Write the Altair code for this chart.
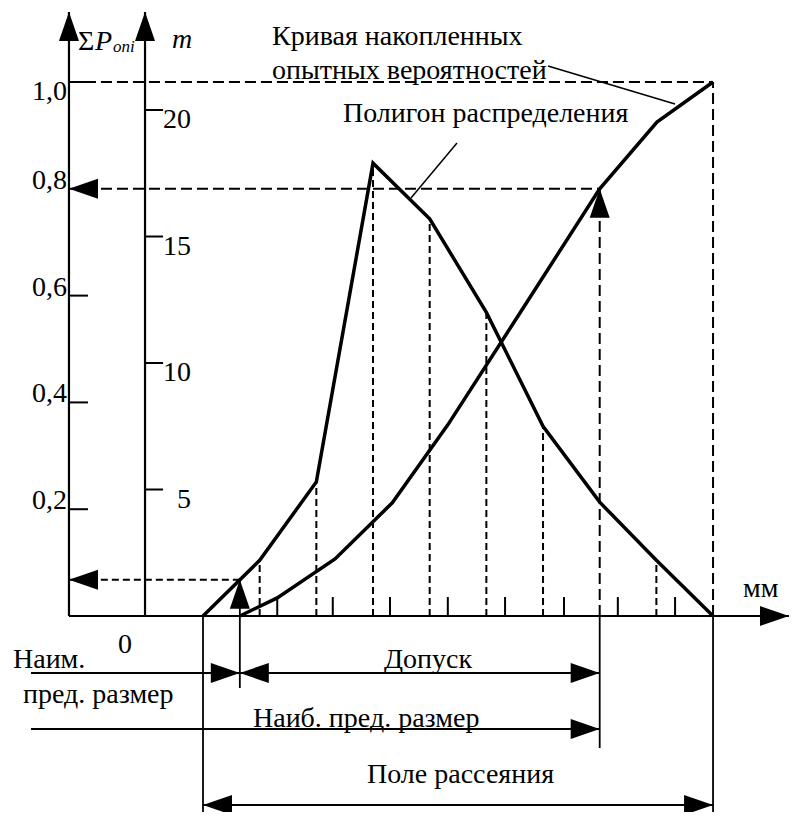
import altair as alt
import pandas as pd

# ---------------- data ----------------
# class boundaries of the measured size (interval index, 1 unit = 1 class interval)
bounds = [0, 1, 2, 3, 4, 5, 6, 7, 8, 9]
# distribution polygon: frequency m at each boundary
m_freq = [0, 2.2, 5.3, 17.9, 15.7, 12.0, 7.5, 4.5, 2.2, 0]
# curve of accumulated experimental probabilities
cum_x = [0.65, 1.31, 2.33, 3.34, 4.32, 5.59, 7.0, 8.01, 9.0]
cum_p = [0, 0.034, 0.107, 0.212, 0.358, 0.567, 0.8, 0.925, 1.0]
# axis ticks
p_ticks = [0.2, 0.4, 0.6, 0.8, 1.0]
p_tick_labels = ["0,2", "0,4", "0,6", "0,8", "1,0"]
m_ticks = [5, 10, 15, 20]
m_tick_labels = ["5", "10", "15", "20"]
x_ticks = [1.31, 2.29, 3.30, 4.32, 5.33, 6.37, 7.32, 8.33]
# limits
lim_min = 0.65      # наим. пред. размер
lim_max = 7.0       # наиб. пред. размер
spread = [0, 9]     # поле рассеяния
p_read = 0.8        # read-off probability at lim_max
m_at_min = m_freq[1] * lim_min   # polygon height at lim_min

# ---------------- layout anchors (data units) ----------------
AX_P = -2.365       # ΣP axis
AX_M = -1.023       # m axis
X_END = 10.34       # x-axis arrow tip
Y_TIP = 23.87       # vertical axes arrow tips (m units)
TICK_P = 0.335
TICK_M = 0.318
XTICK_H = 0.75
DIM1, DIM2, DIM3 = -2.253, -4.466, -7.47
DIM_LEFT = -3.035
BOTTOM = -7.75

XS = alt.Scale(domain=[-3.441, 10.358], nice=False, zero=False)
YM = alt.Scale(domain=[-7.747, 24.032], nice=False, zero=False)
YP = alt.Scale(domain=[-0.367, 1.1386], nice=False, zero=False)

FONT = "Liberation Serif"
ARROW = "M0,0L-0.345,1L0.345,1Z"


def seg_layer(df, yscale, width, dash=None):
    kw = dict(color="black", strokeWidth=width, strokeCap="butt")
    if dash:
        kw["strokeDash"] = dash
    return alt.Chart(df).mark_rule(**kw).encode(
        x=alt.X("x:Q", scale=XS, axis=None), x2="x2:Q",
        y=alt.Y("y:Q", scale=yscale, axis=None), y2="y2:Q")


def arrow_layer(df, yscale):
    return alt.Chart(df).mark_point(
        shape=ARROW, filled=True, opacity=1, size=3364, color="black", strokeWidth=0
    ).encode(
        x=alt.X("x:Q", scale=XS, axis=None),
        y=alt.Y("y:Q", scale=yscale, axis=None),
        angle=alt.Angle("a:Q", scale=None))


def text_layer(df, yscale, size=28, align="left", italic=False, dy=0):
    kw = dict(font=FONT, fontSize=size, align=align, baseline="alphabetic",
              color="black", dy=dy)
    if italic:
        kw["fontStyle"] = "italic"
    return alt.Chart(df).mark_text(**kw).encode(
        x=alt.X("x:Q", scale=XS, axis=None),
        y=alt.Y("y:Q", scale=yscale, axis=None), text="t:N")


def segs(rows):
    return pd.DataFrame(rows, columns=["x", "y", "x2", "y2"])


# ---------------- m-scale group ----------------
axes = segs([(AX_P, 0, AX_P, Y_TIP), (AX_M, 0, AX_M, Y_TIP), (AX_P, 0, X_END, 0)])
ticks_m = segs([(AX_M, v, AX_M + TICK_M, v) for v in m_ticks]
               + [(t, 0, t, XTICK_H) for t in x_ticks])
dims = segs([
    (spread[0], 0, spread[0], BOTTOM), (spread[1], 0, spread[1], BOTTOM),
    (lim_max, 0, lim_max, -5.217), (lim_min, m_at_min, lim_min, -2.846),
    (DIM_LEFT, DIM1, lim_max, DIM1), (DIM_LEFT, DIM2, lim_max, DIM2),
    (spread[0], DIM3, spread[1], DIM3)])
leaders = segs([(6.088, 21.74, 8.329, 20.24), (4.482, 18.70, 3.670, 16.52)])
poly_dash = segs([(b, 0, b, v) for b, v in zip(bounds, m_freq) if b not in (0, 7, 9)]
                 + [(lim_min, m_at_min, AX_P, m_at_min)])
arrows_m = pd.DataFrame([
    (AX_P, Y_TIP, 0), (AX_M, Y_TIP, 0), (X_END, 0, 90),
    (lim_min, m_at_min, 0), (AX_P, m_at_min, 270),
    (lim_min, DIM1, 90), (lim_min, DIM1, 270), (lim_max, DIM1, 90),
    (lim_max, DIM2, 90), (spread[0], DIM3, 270), (spread[1], DIM3, 90),
], columns=["x", "y", "a"])
poly = pd.DataFrame({"x": bounds, "y": m_freq})

texts_m = pd.DataFrame([
    ("Кривая накопленных", 1.218, 22.57),
    ("опытных вероятностей", 1.218, 21.23),
    ("Полигон распределения", 2.47, 19.53),
    ("Наим.", -3.353, -2.055),
    ("пред. размер", -3.176, -3.439),
    ("Допуск", 3.194, -2.055),
    ("Наиб. пред. размер", 0.882, -4.387),
    ("Поле рассеяния", 2.894, -6.601),
    ("мм", 9.529, 0.751),
    ("0", -1.5, -1.462),
    ("Σ", -2.205, 22.37),
], columns=["t", "x", "y"])
italic_m = pd.DataFrame([("P", -1.906, 22.37), ("m", -0.547, 22.45)], columns=["t", "x", "y"])
sub_m = pd.DataFrame([("опi", -1.588, 22.29)], columns=["t", "x", "y"])
mlab = pd.DataFrame({"t": m_tick_labels, "x": [-0.212] * 4, "y": m_ticks})

m_group = alt.layer(
    seg_layer(axes, YM, 2.2), seg_layer(ticks_m, YM, 2), seg_layer(dims, YM, 1.8),
    seg_layer(leaders, YM, 1.5), seg_layer(poly_dash, YM, 2, [7, 4]),
    alt.Chart(poly).mark_line(color="black", strokeWidth=3.5, strokeJoin="miter").encode(
        x=alt.X("x:Q", scale=XS, axis=None), y=alt.Y("y:Q", scale=YM, axis=None)),
    arrow_layer(arrows_m, YM),
    text_layer(texts_m, YM),
    text_layer(italic_m, YM, italic=True),
    text_layer(sub_m, YM, size=17, italic=True),
    text_layer(mlab, YM, align="right", dy=18),
)

# ---------------- ΣP-scale group ----------------
ticks_p = segs([(AX_P, v, AX_P + TICK_P, v) for v in p_ticks if v != p_read])
long_dash = segs([(AX_P, 1.0, spread[1], 1.0), (AX_P, p_read, lim_max, p_read),
                  (lim_max, 0, lim_max, p_read), (spread[1], 0, spread[1], 1.0)])
arrows_p = pd.DataFrame([(AX_P, p_read, 270), (lim_max, p_read, 0)], columns=["x", "y", "a"])
cum = pd.DataFrame({"x": cum_x, "y": cum_p})
plab = pd.DataFrame({"t": p_tick_labels, "x": [-2.40] * 5, "y": p_ticks})
plab_low = plab[plab.y < 1.0]
plab_top = plab[plab.y >= 1.0]

p_group = alt.layer(
    seg_layer(ticks_p, YP, 2), seg_layer(long_dash, YP, 2, [11, 5]),
    alt.Chart(cum).mark_line(color="black", strokeWidth=3.5, strokeJoin="miter").encode(
        x=alt.X("x:Q", scale=XS, axis=None), y=alt.Y("y:Q", scale=YP, axis=None)),
    arrow_layer(arrows_p, YP),
    text_layer(plab_low, YP, align="right"),
    text_layer(plab_top, YP, align="right", dy=18),
)

chart = alt.layer(m_group, p_group).resolve_scale(y="independent").properties(
    width=782, height=804, padding=0,
    autosize=alt.AutoSizeParams(type="none"), background="white",
).configure_view(stroke=None)

chart.save("out.html", embed_options={"renderer": "svg", "actions": False})
